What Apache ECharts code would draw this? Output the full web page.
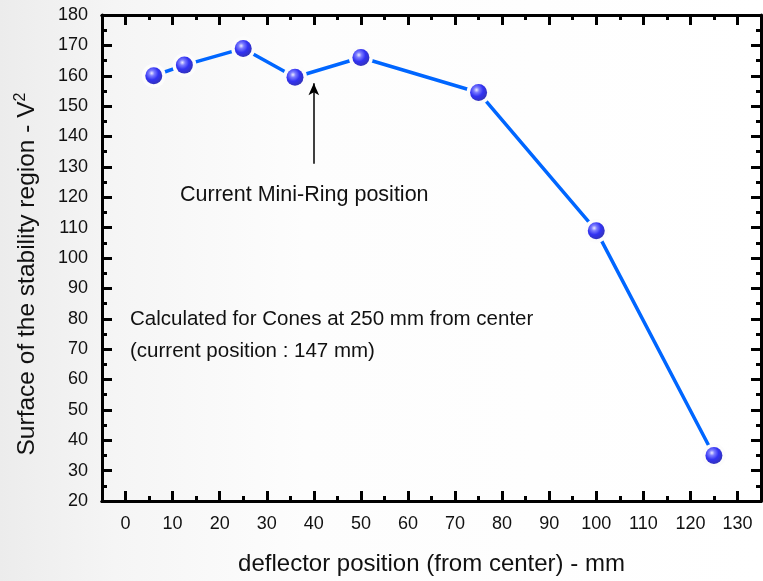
<!DOCTYPE html>
<html>
<head>
<meta charset="utf-8">
<script src="https://cdn.jsdelivr.net/npm/echarts@6/dist/echarts.min.js"></script>
<style>
  html, body { margin: 0; padding: 0; }
  body {
    width: 763px; height: 581px;
    background: linear-gradient(to right, #ececec 0%, #f5f5f5 15%, #fdfdfd 40%, #ffffff 100%);
  }
  #chart { width: 763px; height: 581px; }
</style>
</head>
<body>
<div id="chart"></div>
<script>
// deflector position vs stability region surface
var positions = [6, 12.5, 25, 36, 50, 75, 100, 125];
var surfaces = [160, 163.5, 169, 159.5, 166, 154.5, 109, 35];
var majorX = [0, 10, 20, 30, 40, 50, 60, 70, 80, 90, 100, 110, 120, 130];
var minorX = [5, 15, 25, 35, 45, 55, 65, 75, 85, 95, 105, 115, 125];
var arrowFrom = [40, 131];
var arrowTo = [40, 157.5];

(function () {
  var myChart = echarts.init(document.getElementById("chart"), null, { renderer: "canvas" });
  var font = "Liberation Sans, Arial, sans-serif";
  var pts = positions.map(function (x, i) { return [x, surfaces[i]]; });

  const axisLine = { show: true, onZero: false, lineStyle: { color: "#000", width: 3 } };

  function xAx(pos, ticks, len, labels) {
    return {
      type: "value",
      position: pos,
      min: -5,
      max: 135,
      interval: 5,
      axisLine: axisLine,
      splitLine: { show: false },
      axisTick: {
        show: true,
        inside: true,
        length: len,
        customValues: ticks,
        lineStyle: { color: "#000", width: 3 },
      },
      axisLabel: labels
        ? { show: true, customValues: ticks, margin: 14, fontSize: 18, color: "#111", fontFamily: font }
        : { show: false },
    };
  }

  var xAxes = [xAx("bottom", majorX, 10, true), xAx("bottom", minorX, 5, false),
               xAx("top", majorX, 10, false), xAx("top", minorX, 5, false)];
  xAxes[0].name = "deflector position (from center) - mm";
  xAxes[0].nameLocation = "middle";
  xAxes[0].nameGap = 51;
  xAxes[0].nameTextStyle = { fontSize: 24, color: "#111", fontFamily: font };

  function yAx(pos, labels) {
    return {
      type: "value",
      position: pos,
      min: 20,
      max: 180,
      interval: 10,
      axisLine: axisLine,
      splitLine: { show: false },
      axisTick: { show: true, inside: true, length: 10, lineStyle: { color: "#000", width: 3 } },
      minorTick: { show: true, splitNumber: 2, length: 5, lineStyle: { color: "#000", width: 3 } },
      axisLabel: labels
        ? { show: true, margin: 14, fontSize: 18, color: "#111", fontFamily: font }
        : { show: false },
    };
  }
  var yAxes = [yAx("left", true), yAx("right", false)];
  yAxes[0].name = "Surface of the stability region - V{sup|2}";
  yAxes[0].nameLocation = "middle";
  yAxes[0].nameGap = 61;
  yAxes[0].nameTextStyle = {
    fontSize: 24.5, color: "#111", fontFamily: font,
    padding: [0, 32, 0, 0],
    rich: { sup: { fontSize: 16, color: "#111", fontFamily: font, padding: [0, 0, 12, 0] } },
  };

  var sphere = new echarts.graphic.RadialGradient(0.38, 0.35, 0.65, [
    { offset: 0, color: "#e6e6ff" },
    { offset: 0.25, color: "#5a5aff" },
    { offset: 0.6, color: "#0000f0" },
    { offset: 1, color: "#0000b0" },
  ]);

  option = {
    animation: false,
    backgroundColor: "transparent",
    grid: { left: 102, right: 2, top: 15, bottom: 79, containLabel: false },
    xAxis: xAxes,
    yAxis: yAxes,
    graphic: [
      {
        type: "text", left: 180, top: 184,
        style: { text: "Current Mini-Ring position", fontSize: 21.5, fill: "#111", fontFamily: font },
      },
      {
        type: "text", left: 130, top: 303,
        style: { text: "Calculated for Cones at 250 mm from center\n(current position : 147 mm)",
                 fontSize: 20.5, lineHeight: 32, fill: "#111", fontFamily: font },
      },
    ],
    series: [
      {
        type: "line",
        data: pts,
        symbol: "circle",
        symbolSize: 24,
        itemStyle: { color: "#fcfcfc" },
        lineStyle: { color: "#0066ff", width: 3.5 },
        z: 2,
      },
      {
        type: "scatter",
        data: pts,
        symbol: "circle",
        symbolSize: 17,
        itemStyle: { color: sphere },
        z: 3,
        markLine: {
          silent: true,
          symbol: ["none", "arrow"],
          symbolSize: [8, 12],
          label: { show: false },
          lineStyle: { color: "#000", width: 1.5, type: "solid" },
          data: [[{ coord: arrowFrom }, { coord: arrowTo }]],
        },
      },
    ],
  };
  myChart.setOption(option);
})();
</script>
</body>
</html>
